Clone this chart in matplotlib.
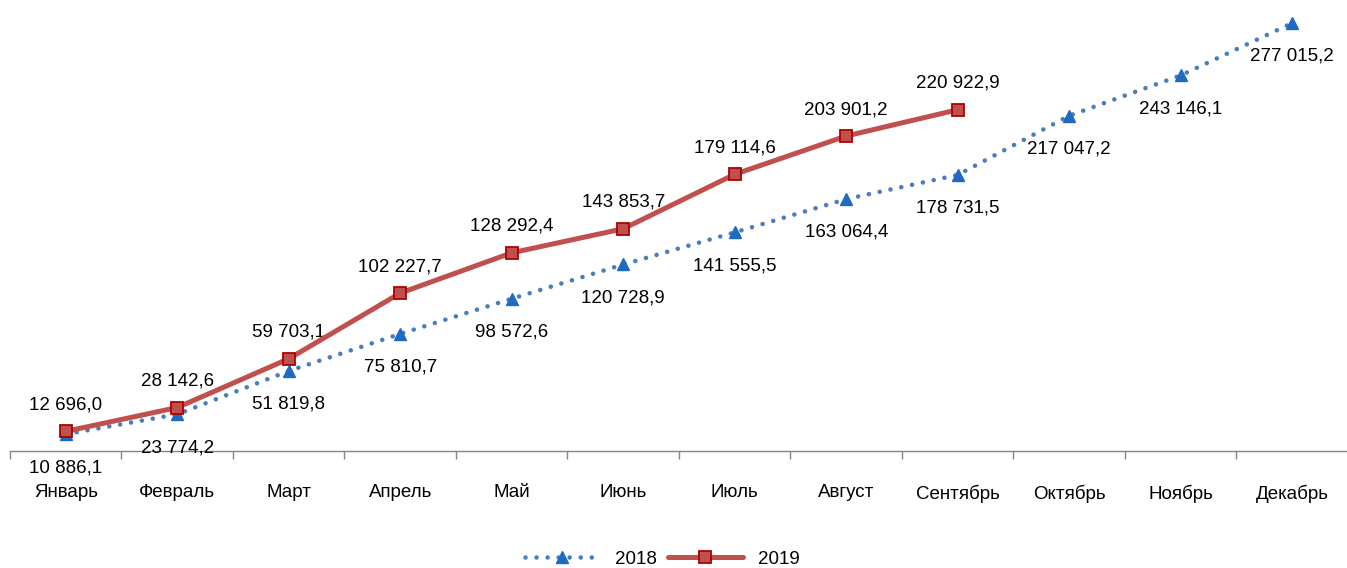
import matplotlib
matplotlib.use('Agg')
import matplotlib.pyplot as plt

plt.rcParams['font.family'] = ['Liberation Sans', 'DejaVu Sans']
plt.rcParams['font.size'] = 13.5

months = ["Январь", "Февраль", "Март", "Апрель", "Май", "Июнь",
          "Июль", "Август", "Сентябрь", "Октябрь", "Ноябрь", "Декабрь"]
values_2018 = [10886.1, 23774.2, 51819.8, 75810.7, 98572.6, 120728.9,
               141555.5, 163064.4, 178731.5, 217047.2, 243146.1, 277015.2]
values_2019 = [12696.0, 28142.6, 59703.1, 102227.7, 128292.4, 143853.7,
               179114.6, 203901.2, 220922.9]


def fmt(v):
    # формат с пробелом-разделителем тысяч и запятой
    return f"{v:,.1f}".replace(",", " ").replace(".", ",")


fig = plt.figure(figsize=(13.47, 5.68), dpi=100)
ax = fig.add_axes([10 / 1347, (568 - 451) / 568, 1338 / 1347, 448 / 568])

x18 = list(range(len(values_2018)))
x19 = list(range(len(values_2019)))

ax.plot(x18, values_2018, color="#4A7EBB", linewidth=3.3, linestyle=(0, (0.01, 2.4)),
        dash_capstyle="round", marker="^", markersize=9,
        markerfacecolor="#1F6BC4", markeredgecolor="#1F6BC4", label="2018", zorder=3)
ax.plot(x19, values_2019, color="#C0504D", linewidth=3.6, solid_capstyle="round",
        marker="s", markersize=9, markerfacecolor="#C0504D",
        markeredgecolor="#B00000", markeredgewidth=1.3, label="2019", zorder=4)

for x, v in zip(x18, values_2018):
    ax.annotate(fmt(v), (x, v), xytext=(0, -24), textcoords="offset points",
                ha="center", va="center")
for x, v in zip(x19, values_2019):
    ax.annotate(fmt(v), (x, v), xytext=(0, 19), textcoords="offset points",
                ha="center", va="center")

ax.set_xlim(-0.5, 11.5)
ax.set_ylim(0, 290000)
ax.set_xticks(range(12))
ax.set_xticklabels(months)
ax.set_xticks([i - 0.5 for i in range(13)], minor=True)
ax.tick_params(axis="x", which="major", length=0, pad=24)
ax.tick_params(axis="x", which="minor", length=6, color="#868686", width=1)
ax.set_yticks([])
for s in ["top", "right", "left"]:
    ax.spines[s].set_visible(False)
ax.spines["bottom"].set_color("#868686")
ax.spines["bottom"].set_linewidth(1)
ax.patch.set_alpha(0)

fig.legend(loc="center", bbox_to_anchor=(662 / 1347, 1 - 559 / 568), ncol=2,
           frameon=False, handlelength=4.0, columnspacing=0.6,
           handletextpad=0.8)

fig.savefig("out.png", dpi=100)
plt.close()
